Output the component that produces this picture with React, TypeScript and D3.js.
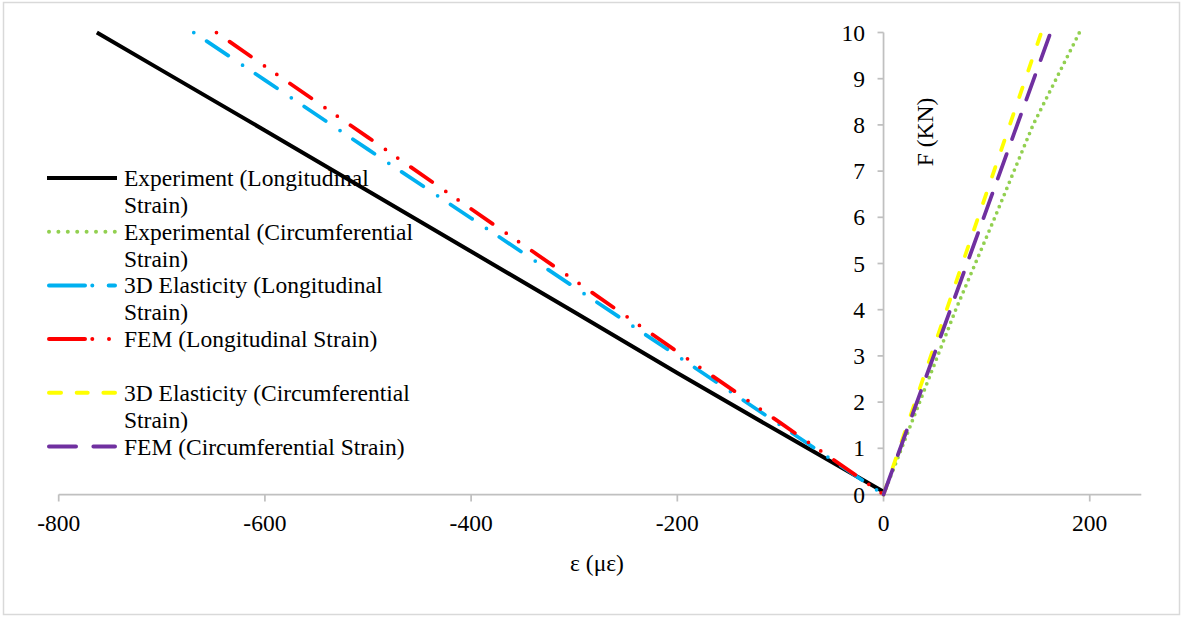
import React from "react";
import * as d3 from "d3";

// ---- data ----
const xTicks = [-800, -600, -400, -200, 0, 200];
const yTicks = [0, 1, 2, 3, 4, 5, 6, 7, 8, 9, 10];

const expLongEps = [-763, -700, -600, -500, -400, -300, -200, -100, 0];
const expLongF = [10, 9.18, 7.88, 6.57, 5.26, 3.95, 2.63, 1.34, 0.06];

const expCircEps = [0, 35, 70, 108, 145, 190];
const expCircF = [0, 2, 4, 6, 8, 10];

const elaLongEps = [-669, -600, -500, -400, -300, -200, -100, 0];
const elaLongF = [10, 8.97, 7.47, 5.98, 4.49, 3.0, 1.5, 0];

const femLongEps = [-647, -600, -500, -400, -300, -200, -100, 0];
const femLongF = [10, 9.27, 7.73, 6.18, 4.64, 3.09, 1.55, 0];

const elaCircEps = [0, 153];
const elaCircF = [0, 10];

const femCircEps = [0, 162];
const femCircF = [0, 10];

const seriesNames = [
  ["Experiment (Longitudinal", "Strain)"],
  ["Experimental (Circumferential", "Strain)"],
  ["3D Elasticity (Longitudinal", "Strain)"],
  ["FEM (Longitudinal Strain)"],
  ["3D Elasticity (Circumferential", "Strain)"],
  ["FEM (Circumferential Strain)"],
];

const FONT = "'Liberation Serif', 'Times New Roman', serif";

export default function App() {
  const x = d3.scaleLinear().domain([-800, 250]).range([58.7, 1141.3]);
  const y = d3.scaleLinear().domain([0, 10]).range([494.5, 32.5]);
  const line = d3
    .line<[number, number]>()
    .x((d) => x(d[0]))
    .y((d) => y(d[1]));
  const zip = (a: number[], b: number[]) => a.map((v, i) => [v, b[i]] as [number, number]);

  const series = [
    { pts: zip(expLongEps, expLongF), color: "#000000", dash: "", lg: "", w: 4 },
    { pts: zip(expCircEps, expCircF), color: "#92d050", dash: "0 6.6", lg: "0 9.4", w: 3.75 },
    { pts: zip(elaLongEps, elaLongF), color: "#00b0f0", dash: "0 15.5 26 17.2", lg: "36 7.3 0 16.4 20", w: 3.75 },
    { pts: zip(femLongEps, femLongF), color: "#ff0000", dash: "0 16 26 16.5 0 15", lg: "36 7.3 0 16.7 0 20", w: 3.75 },
    { pts: zip(elaCircEps, elaCircF), color: "#ffff00", dash: "10 18", lg: "12 15.7 11 15.7 20", w: 3.75 },
    { pts: zip(femCircEps, femCircF), color: "#7030a0", dash: "26 16", lg: "27 17.4 30", w: 3.75 },
  ];

  const axisColor = "#c0c0c0";
  const x0 = x(0);
  const yBase = y(0);

  return (
    <svg
      width={1183}
      height={617}
      style={{ position: "absolute", left: 0, top: 0, background: "#fff" }}
      fontFamily={FONT}
    >
      <rect x={3.5} y={2.5} width={1176} height={612} fill="#fff" stroke="#d9d9d9" strokeWidth={1.5} />

      {/* x axis */}
      <line x1={x(-800)} x2={x(250)} y1={yBase} y2={yBase} stroke={axisColor} strokeWidth={1.75} />
      {xTicks.map((t) => (
        <g key={"xt" + t}>
          <line x1={x(t)} x2={x(t)} y1={yBase} y2={yBase + 7} stroke={axisColor} strokeWidth={1.75} />
          <text x={x(t)} y={531} textAnchor="middle" fontSize={23.5} fill="#000">
            {t}
          </text>
        </g>
      ))}

      {/* y axis */}
      <line x1={x0} x2={x0} y1={y(0)} y2={y(10)} stroke={axisColor} strokeWidth={1.75} />
      {yTicks.map((t) => (
        <g key={"yt" + t}>
          <line x1={x0 - 6} x2={x0} y1={y(t)} y2={y(t)} stroke={axisColor} strokeWidth={1.75} />
          <text x={865} y={y(t) + 8} textAnchor="end" fontSize={23.5} fill="#000">
            {t}
          </text>
        </g>
      ))}

      {/* axis titles */}
      <text x={597} y={571} textAnchor="middle" fontSize={23.5} fill="#000">
        ε (με)
      </text>
      <text
        transform={`translate(933,132) rotate(-90)`}
        textAnchor="middle"
        fontSize={23.5}
        fill="#000"
      >
        F (KN)
      </text>

      {/* series */}
      {series.map((s, i) => (
        <path
          key={"s" + i}
          d={line(s.pts) || ""}
          fill="none"
          stroke={s.color}
          strokeWidth={s.w}
          strokeDasharray={s.dash || undefined}
          strokeLinecap={s.dash ? "round" : "butt"}
          strokeLinejoin="round"
        />
      ))}

      {/* legend */}
      {series.map((s, i) => {
        const cy = 178 + i * 53.7;
        return (
          <g key={"lg" + i}>
            <line
              x1={s.lg ? 49 : 47}
              x2={s.lg ? 115 : 117}
              y1={cy}
              y2={cy}
              stroke={s.color}
              strokeWidth={4}
              strokeDasharray={s.lg || undefined}
              strokeLinecap={s.lg ? "round" : "butt"}
            />
            {seriesNames[i].map((ln, j) => (
              <text key={j} x={124} y={cy + 8 + j * 27} fontSize={23.5} fill="#000">
                {ln}
              </text>
            ))}
          </g>
        );
      })}
    </svg>
  );
}
